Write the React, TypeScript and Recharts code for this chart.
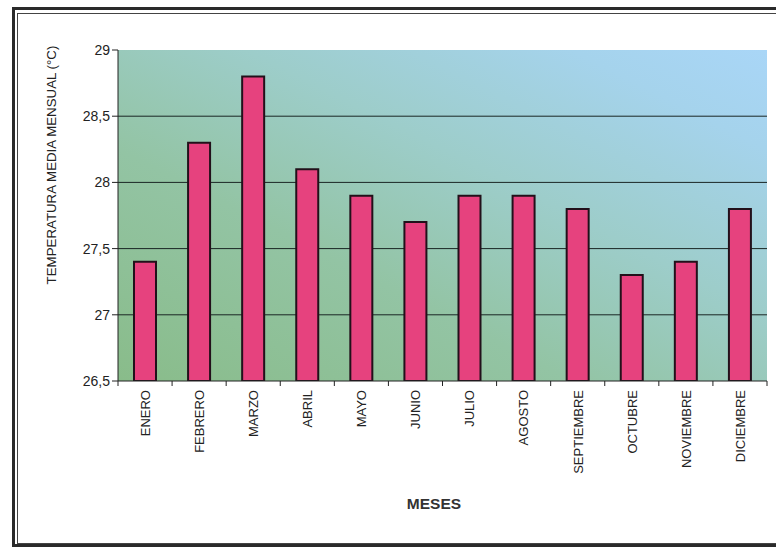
import React from 'react';
import { BarChart, Bar, XAxis, YAxis, CartesianGrid } from 'recharts';

const MONTHS = ['ENERO', 'FEBRERO', 'MARZO', 'ABRIL', 'MAYO', 'JUNIO', 'JULIO', 'AGOSTO', 'SEPTIEMBRE', 'OCTUBRE', 'NOVIEMBRE', 'DICIEMBRE'];
const TEMPS = [27.4, 28.3, 28.8, 28.1, 27.9, 27.7, 27.9, 27.9, 27.8, 27.3, 27.4, 27.8];
const Y_TICKS = [26.5, 27, 27.5, 28, 28.5, 29];
const GRID_VALUES = [27, 27.5, 28, 28.5];
const Y_MIN = 26.5;
const Y_MAX = 29;

const data = MONTHS.map((m, i) => ({ mes: m, temp: TEMPS[i] }));

const FONT = "'Liberation Sans', Arial, sans-serif";
const W = 776;
const H = 548;
const MARGIN = { top: 50, right: 9, left: 58, bottom: 67 };
const Y_AXIS_W = 60;
const X_AXIS_H = 100;
const PLOT_W = W - MARGIN.left - Y_AXIS_W - MARGIN.right;
const PLOT_H = H - MARGIN.top - MARGIN.bottom - X_AXIS_H;
const BAND = PLOT_W / MONTHS.length;

const gridGen = (args: any) => {
  const yAxis = args && args.yAxis;
  if (yAxis && typeof yAxis.scale === 'function') {
    return GRID_VALUES.map((v) => yAxis.scale(v));
  }
  const off = (args && args.offset) || {};
  const top = typeof off.top === 'number' ? off.top : MARGIN.top;
  const h = typeof off.height === 'number' ? off.height : PLOT_H;
  return GRID_VALUES.map((v) => top + ((Y_MAX - v) / (Y_MAX - Y_MIN)) * h);
};

const XTick = (props: any) => {
  const { x, y, payload, index } = props;
  const axisY = y - 8;
  const tx = x + 4.8;
  const ty = axisY + 9;
  return (
    <g>
      <line x1={x - BAND / 2} x2={x - BAND / 2} y1={axisY} y2={axisY + 5} stroke="#222" strokeWidth={1} />
      {index === MONTHS.length - 1 && (
        <line x1={x + BAND / 2} x2={x + BAND / 2} y1={axisY} y2={axisY + 5} stroke="#222" strokeWidth={1} />
      )}
      <text
        x={tx}
        y={ty}
        transform={`rotate(-90, ${tx}, ${ty})`}
        textAnchor="end"
        fontSize={13}
        fontFamily={FONT}
        fill="#222"
      >
        {payload.value}
      </text>
    </g>
  );
};

export default function App() {
  return (
    <div style={{ position: 'relative', width: W, height: H, overflow: 'hidden', background: '#fff' }}>
      <style>{`body{margin:0;}`}</style>
      <div
        style={{
          position: 'absolute',
          left: 12,
          top: 7,
          width: 800,
          height: 540,
          boxSizing: 'border-box',
          border: '3px solid #2a2a2a',
        }}
      />
      <div
        style={{
          position: 'absolute',
          left: 17,
          top: 13,
          width: 800,
          height: 531,
          boxSizing: 'border-box',
          border: '1px solid #444',
        }}
      />
      <div style={{ position: 'absolute', left: 0, top: 0 }}>
        <BarChart width={W} height={H} data={data} margin={MARGIN} barCategoryGap={0}>
          <defs>
            <linearGradient id="plotBg" x1="0" y1="1" x2="1" y2="0">
              <stop offset="0%" stopColor="#89bc8a" />
              <stop offset="35%" stopColor="#93c4a4" />
              <stop offset="60%" stopColor="#9dcdca" />
              <stop offset="85%" stopColor="#a5d3ec" />
              <stop offset="100%" stopColor="#a9d6f7" />
            </linearGradient>
          </defs>
          <CartesianGrid
            vertical={false}
            fill="url(#plotBg)"
            fillOpacity={1}
            stroke="#1a2624"
            strokeWidth={1}
            horizontalCoordinatesGenerator={gridGen}
          />
          <XAxis
            dataKey="mes"
            interval={0}
            height={X_AXIS_H}
            tickLine={false}
            axisLine={{ stroke: '#222', strokeWidth: 1 }}
            tick={<XTick />}
          />
          <YAxis
            width={Y_AXIS_W}
            domain={[Y_MIN, Y_MAX]}
            ticks={Y_TICKS}
            allowDataOverflow
            tickSize={6}
            tickLine={{ stroke: '#222' }}
            axisLine={{ stroke: '#222', strokeWidth: 1 }}
            tickFormatter={(v: number) => String(v).replace('.', ',')}
            tick={{ fontSize: 14, fontFamily: FONT, fill: '#222' }}
          />
          <Bar
            dataKey="temp"
            barSize={22}
            fill="#e6427e"
            stroke="#22101a"
            strokeWidth={2}
            isAnimationActive={false}
          />
        </BarChart>
      </div>
      <div
        style={{
          position: 'absolute',
          left: 51,
          top: 165,
          transform: 'translate(-50%, -50%) rotate(-90deg)',
          whiteSpace: 'nowrap',
          fontFamily: FONT,
          fontSize: 13.3,
          color: '#222',
        }}
      >
        TEMPERATURA MEDIA MENSUAL (°C)
      </div>
      <div
        style={{
          position: 'absolute',
          left: 434,
          top: 504,
          transform: 'translate(-50%, -50%)',
          whiteSpace: 'nowrap',
          fontFamily: FONT,
          fontSize: 15.5,
          fontWeight: 'bold',
          color: '#333',
        }}
      >
        MESES
      </div>
    </div>
  );
}
